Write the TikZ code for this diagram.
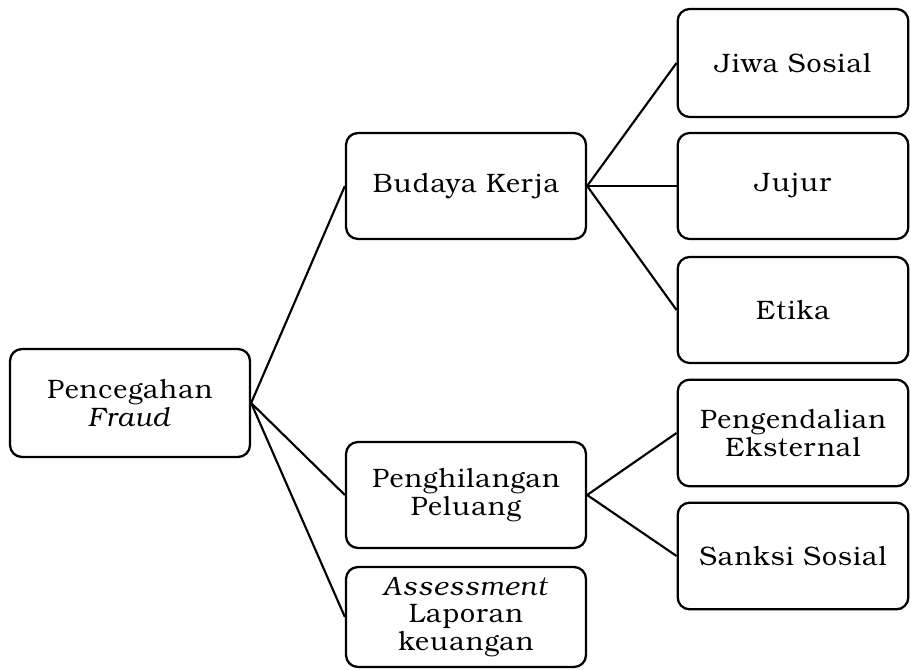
\documentclass[tikz,border=0pt]{standalone}
\usepackage{fontspec}
\setmainfont{texgyrebonum}[Extension=.otf,UprightFont=*-regular,ItalicFont=*-italic,LetterSpace=4]
\begin{document}
\begin{tikzpicture}[x=0.75pt,y=-0.75pt,
  box/.style={draw,line width=1.7pt,rounded corners=9pt,align=center,inner sep=0pt,
    font=\fontsize{20}{20.5}\selectfont},
  wire/.style={line width=1.6pt}]
\useasboundingbox (0,0) rectangle (911,670);
\node[box,minimum width=180pt,minimum height=81pt] (root) at (130,403) {Pencegahan\\\textit{Fraud}};
\node[box,minimum width=180pt,minimum height=79.5pt] (bud) at (466,186) {Budaya Kerja};
\node[box,minimum width=180pt,minimum height=79.5pt] (pen) at (466,495) {Penghilangan\\Peluang};
\node[box,minimum width=180pt,minimum height=75pt] (ass) at (466,617) {\textit{Assessment}\\Laporan\\keuangan};
\node[box,minimum width=173pt,minimum height=81pt] (jiwa) at (793,63) {Jiwa Sosial};
\node[box,minimum width=173pt,minimum height=79.5pt] (juj) at (793,186) {Jujur};
\node[box,minimum width=173pt,minimum height=79.5pt] (eti) at (793,310) {Etika};
\node[box,minimum width=173pt,minimum height=80pt] (peng) at (793,433) {Pengendalian\\Eksternal};
\node[box,minimum width=173pt,minimum height=80pt] (san) at (793,556) {Sanksi Sosial};
\draw[wire] (root.east) -- (bud.west);
\draw[wire] (root.east) -- (pen.west);
\draw[wire] (root.east) -- (ass.west);
\draw[wire] (bud.east) -- (jiwa.west);
\draw[wire] (bud.east) -- (juj.west);
\draw[wire] (bud.east) -- (eti.west);
\draw[wire] (pen.east) -- (peng.west);
\draw[wire] (pen.east) -- (san.west);
\end{tikzpicture}
\end{document}
